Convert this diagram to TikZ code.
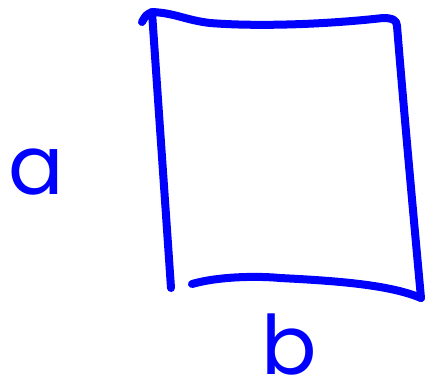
\documentclass[tikz,border=0pt]{standalone}
\usepackage{fontspec}
\newfontfamily\handfont{Poppins}
\begin{document}
\begin{tikzpicture}[x=1pt,y=-1pt,
  ink/.style={draw=blue,line width=8pt,line cap=round,line join=round},
  lbl/.style={text=blue,inner sep=0pt,font=\fontsize{82}{82}\selectfont\handfont}]
\useasboundingbox (0,0) rectangle (430,389);
% square coordinates
\coordinate (hook) at (142,22);
\coordinate (tl) at (152,12);
\coordinate (bl) at (171,288);
\coordinate (tr) at (397,26);
\coordinate (br) at (421,298);
\coordinate (bs) at (192,284);
% left side with hook
\draw[ink] (hook) .. controls (146,15) .. (tl) .. controls (158,100) and (165,200) .. (bl);
% top and right side
\draw[ink] (tl) .. controls (175,13) and (185,20) .. (210,23)
  .. controls (260,27) and (330,24) .. (383,18)
  .. controls (392,18) and (397,20) .. (tr)
  .. controls (403,100) and (412,200) .. (br);
% bottom side
\draw[ink] (bs) .. controls (220,276) and (260,276) .. (280,278)
  .. controls (340,281) and (390,285) .. (br);
% labels
\node[lbl] (a) at (36,172) {a};
\node[lbl] (b) at (289,345) {b};
\end{tikzpicture}
\end{document}
